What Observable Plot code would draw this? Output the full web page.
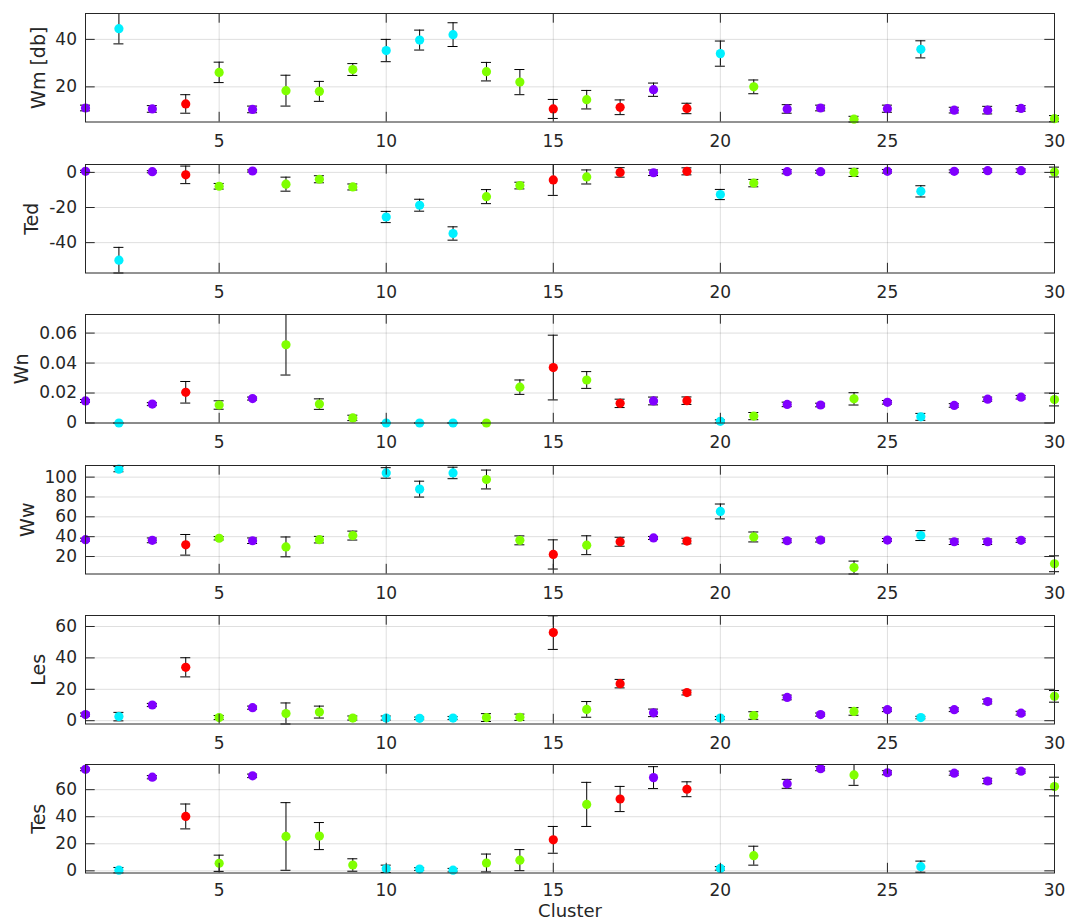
<!DOCTYPE html>
<html>
<head>
<meta charset="utf-8">
<script src="https://cdn.jsdelivr.net/npm/d3@7"></script>
<script src="https://cdn.jsdelivr.net/npm/@observablehq/plot@0.6"></script>
<style>
  body { margin: 0; background: #fff; }
  #chart { position: relative; width: 1067px; height: 922px; overflow: hidden; background: #fff; }
  #chart > svg { position: absolute; left: 0; }
</style>
</head>
<body>
<div id="chart"></div>
<script>
// ---------- data ----------
const clusters = d3.range(1, 31);
// group of each cluster: 1 = purple, 2 = cyan, 3 = green, 4 = red
const clusterGroup = [1,2,1,4,3,1,3,3,3,2,2,2,3,3,4,3,4,1,4,2,3,1,1,3,1,2,1,1,1,3];
const groupIds = [1, 2, 3, 4];
const groupColors = ["#8000ff", "#00f0ff", "#80ff00", "#ff0000"];

const wmMean = [11.1,44.5,10.7,12.8,26.1,10.5,18.4,18.1,27.3,35.3,39.7,42.0,26.4,22.0,10.7,14.6,11.4,18.8,10.9,34.0,20.0,10.7,11.1,6.4,10.8,35.8,10.2,10.2,10.9,6.6];
const wmErr  = [1.2,6.4,1.4,3.9,4.3,1.4,6.5,4.2,2.5,4.7,4.2,5.0,3.9,5.3,4.0,3.9,3.1,2.8,2.2,5.3,2.9,1.8,1.2,1.2,1.5,3.6,1.2,1.6,1.2,1.3];

const tedMean = [0.6,-50.0,0.4,-1.4,-7.9,0.8,-6.7,-3.9,-8.3,-25.4,-18.7,-34.8,-13.8,-7.5,-4.3,-2.6,0.0,-0.2,0.6,-12.6,-6.1,0.4,0.4,0.0,0.6,-10.8,0.6,1.0,1.0,0.2];
const tedErr  = [0.6,7.3,0.6,5.0,1.6,0.6,4.0,2.0,1.7,3.2,3.4,3.8,4.0,1.9,8.8,4.0,2.7,1.6,2.0,2.9,2.1,1.2,0.8,2.3,1.0,3.2,0.8,1.0,1.0,2.8];

const wnMean = [0.0147,0.0,0.0126,0.0205,0.0120,0.0163,0.0522,0.0126,0.0034,0.0,0.0,0.0,0.0,0.0239,0.0370,0.0287,0.0131,0.0147,0.0149,0.0011,0.0046,0.0124,0.0120,0.0161,0.0138,0.0041,0.0117,0.0159,0.0172,0.0156];
const wnErr  = [0.0010,0.0,0.0010,0.0072,0.0028,0.0010,0.0202,0.0035,0.0018,0.0,0.0,0.0,0.0,0.0048,0.0216,0.0056,0.0028,0.0026,0.0025,0.0010,0.0024,0.0015,0.0012,0.0041,0.0012,0.0023,0.0012,0.0014,0.0012,0.0042];

const wwMean = [37.0,108.0,36.3,31.8,38.4,35.9,29.7,37.0,41.1,104.2,87.9,104.2,97.6,36.3,22.1,31.4,34.9,38.7,35.6,65.4,39.7,35.9,36.6,8.9,36.6,41.1,34.9,34.9,36.3,12.7];
const wwErr  = [1.5,2.6,2.4,10.4,1.7,2.8,10.0,3.3,4.5,5.3,8.0,5.8,9.5,4.5,14.7,9.5,4.5,1.5,2.8,7.5,5.0,2.0,2.0,6.5,1.5,5.0,2.8,2.8,2.0,8.0];

const lesMean = [3.9,2.6,10.0,34.0,2.0,8.3,4.6,5.5,1.7,1.7,1.5,1.7,2.0,2.2,56.1,7.2,23.6,5.0,17.9,1.7,3.3,14.8,3.9,5.9,7.0,2.0,7.0,12.2,4.8,15.5];
const lesErr  = [1.0,2.7,1.0,6.1,1.3,1.0,6.7,3.8,1.3,1.3,0.8,1.0,2.5,2.0,10.7,5.0,2.7,2.4,1.5,1.0,2.4,1.5,1.0,2.4,1.2,0.8,1.2,1.5,1.2,3.7];

const tesMean = [75.0,0.5,69.2,40.2,5.6,70.2,25.4,25.7,4.3,1.5,1.3,0.5,5.8,7.9,22.9,49.1,53.1,68.9,60.3,1.8,11.2,64.3,75.5,70.9,72.5,3.1,72.2,66.4,73.7,62.3];
const tesErr  = [1.0,2.0,1.2,9.2,6.0,1.3,25.0,10.0,4.6,2.7,1.0,1.3,6.6,7.8,9.9,16.3,9.3,8.1,5.5,1.3,7.0,3.3,1.5,7.7,1.5,4.1,1.5,2.0,1.5,6.9];

const panelLabels = ["Wm [db]", "Ted", "Wn", "Ww", "Les", "Tes"];
const panelMeans = [wmMean, tedMean, wnMean, wwMean, lesMean, tesMean];
const panelErrs = [wmErr, tedErr, wnErr, wwErr, lesErr, tesErr];
const panelDomains = [[5.2, 50.9], [-57.3, 4.5], [0, 0.0724], [2.4, 111.7], [-2.1, 67], [-1.6, 78.6]];
const panelYTicks = [[20, 40], [-40, -20, 0], [0, 0.02, 0.04, 0.06], [20, 40, 60, 80, 100], [0, 20, 40, 60], [0, 20, 40, 60]];
const xTicks = [5, 10, 15, 20, 25, 30];
const xLabel = "Cluster";

// ---------- layout / style ----------
const W = 1067;
const marginLeft = 85, marginRight = 13, marginTop = 13;
const plotH = 108.5;
const panelStep = 150.6;
const labelCenters = [38.5, 31.5, 21.5, 27, 38.5, 38];
const tickLen = 9.7;
const ink = "#262626";
const font = "DejaVu Sans, sans-serif";
const capHalf = 0.15; // in cluster units
const plotW = W - marginLeft - marginRight;

const chart = document.getElementById("chart");

panelLabels.forEach((label, i) => {
  const last = i === panelLabels.length - 1;
  const top = Math.round(i * panelStep) - (last ? 2 : 0);
  const height = last ? 922 - top : 150;
  const marginBottom = height - marginTop - plotH;
  const rows = clusters.map((c, k) => ({
    x: c,
    g: clusterGroup[k],
    m: panelMeans[i][k],
    lo: panelMeans[i][k] - panelErrs[i][k],
    hi: panelMeans[i][k] + panelErrs[i][k]
  }));
  const yTicks = panelYTicks[i];
  const marks = [
    Plot.gridX(xTicks, {stroke: ink, strokeOpacity: 0.15, strokeWidth: 1}),
    Plot.gridY(yTicks, {stroke: ink, strokeOpacity: 0.15, strokeWidth: 1}),
    Plot.ruleX(rows, {x: "x", y1: "lo", y2: "hi", stroke: "#000", strokeWidth: 1, clip: true}),
    Plot.ruleY(rows.filter(d => d.hi <= panelDomains[i][1] + 1e-9), {y: "hi", x1: d => d.x - capHalf, x2: d => d.x + capHalf, stroke: "#000", strokeWidth: 1}),
    Plot.ruleY(rows.filter(d => d.lo >= panelDomains[i][0] - 1e-9), {y: "lo", x1: d => d.x - capHalf, x2: d => d.x + capHalf, stroke: "#000", strokeWidth: 1}),
    Plot.dot(rows, {x: "x", y: "m", r: 4.6, fill: "g", stroke: null}),
    Plot.frame({stroke: ink, strokeWidth: 1}),
    // inward tick marks on all four sides
    Plot.tickX(xTicks, {x: d => d, insetTop: plotH - tickLen, stroke: ink}),
    Plot.tickX(xTicks, {x: d => d, insetBottom: plotH - tickLen, stroke: ink}),
    Plot.tickY(yTicks, {y: d => d, insetRight: plotW - tickLen, stroke: ink}),
    Plot.tickY(yTicks, {y: d => d, insetLeft: plotW - tickLen, stroke: ink}),
    Plot.axisX(xTicks, {tickSize: 0, tickPadding: last ? 11 : 13, tickFormat: d => String(d), fontSize: 17, fill: ink, label: null}),
    Plot.axisY(yTicks, {tickSize: 0, tickPadding: 8.5, tickFormat: d => String(d), fontSize: 17, fill: ink, label: null}),
    Plot.text([label], {frameAnchor: "left", text: d => d, rotate: -90, dx: labelCenters[i] - marginLeft, fontSize: 19, fill: ink, textAnchor: "middle", lineAnchor: "middle"})
  ];
  if (last) {
    marks.push(Plot.text([xLabel], {frameAnchor: "bottom", text: d => d, lineAnchor: "top", dy: 31.5, fontSize: 18, fill: ink}));
  }
  const svg = Plot.plot({
    width: W,
    height,
    marginLeft, marginRight, marginTop, marginBottom,
    style: {fontFamily: font, fontSize: "17px", color: ink, background: "transparent", overflow: "visible"},
    x: {domain: [1, 30]},
    y: {domain: panelDomains[i]},
    color: {type: "ordinal", domain: groupIds, range: groupColors},
    marks
  });
  svg.style.top = top + "px";
  chart.appendChild(svg);
});
</script>
</body>
</html>
